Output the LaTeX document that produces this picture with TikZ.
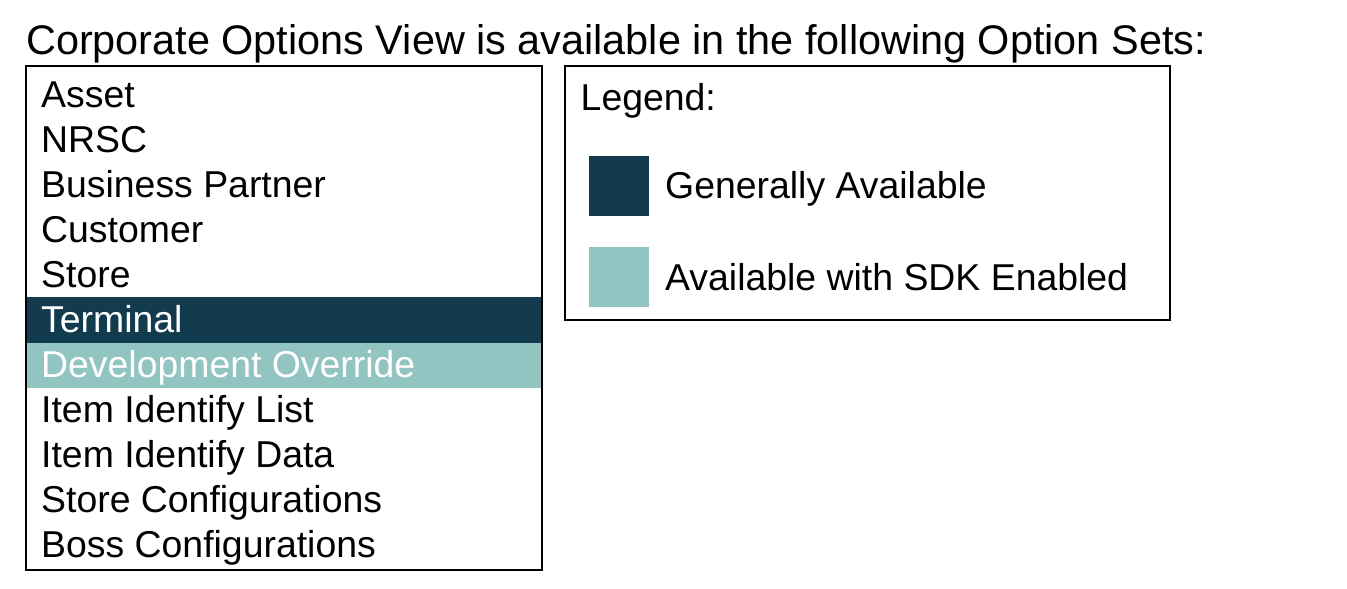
\documentclass[tikz,border=0pt]{standalone}
\usepackage{fontspec}
\setmainfont{Liberation Sans}
\definecolor{gadark}{HTML}{123C4E}
\definecolor{sdklight}{HTML}{92C4C1}
\begin{document}
\begin{tikzpicture}[x=1pt,y=-1pt,
  txt/.style={anchor=base west,inner sep=0pt,font=\fontsize{37.4}{40}\selectfont},
  frame/.style={draw=black,line width=2pt},
  band/.style={inner sep=0pt,outer sep=0pt}]
\useasboundingbox[fill=white] (0,0) rectangle (1347,589);
% title
\node[txt,font=\fontsize{41.4}{44}\selectfont] (title) at (26,54) {Corporate Options View is available in the following Option Sets:};
% list bands
\fill[gadark] (26,297) rectangle (542,342.5);
\fill[sdklight] (26,342.5) rectangle (542,388);
\node[frame,band,minimum width=516pt,minimum height=504pt,anchor=north west] (list) at (26,66) {};
% rows
\node[txt] (r1) at (41,107.3) {Asset};
\node[txt] (r2) at (41,152.3) {NRSC};
\node[txt] (r3) at (41,197.3) {Business Partner};
\node[txt] (r4) at (41,242.3) {Customer};
\node[txt] (r5) at (41,287.3) {Store};
\node[txt,text=white] (r6) at (41,332.3) {Terminal};
\node[txt,text=white] (r7) at (41,377.3) {Development Override};
\node[txt] (r8) at (41,422.3) {Item Identify List};
\node[txt] (r9) at (41,467.3) {Item Identify Data};
\node[txt] (r10) at (41,512.3) {Store Configurations};
\node[txt] (r11) at (41,557.3) {Boss Configurations};
% legend
\node[frame,band,minimum width=605pt,minimum height=253.5pt,anchor=north west] (legend) at (565,66) {};
\node[txt] (lgtitle) at (580.5,110.7) {Legend:};
\node[band,fill=gadark,minimum width=60pt,minimum height=60pt,anchor=north west] (sw1) at (589,156) {};
\node[band,fill=sdklight,minimum width=60pt,minimum height=60pt,anchor=north west] (sw2) at (589,247) {};
\node[txt] (lg1) at (665,198.3) {Generally Available};
\node[txt] (lg2) at (665,290) {Available with SDK Enabled};
\end{tikzpicture}
\end{document}
